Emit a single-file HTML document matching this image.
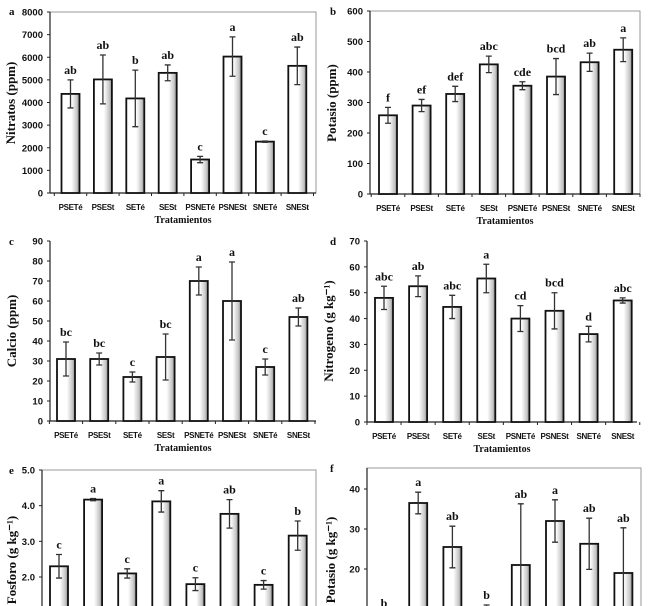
<!DOCTYPE html>
<html><head><meta charset="utf-8">
<style>
html,body{margin:0;padding:0;background:#fff;}
svg{display:block;}
.tk{font-family:"Liberation Sans",Arial,sans-serif;font-weight:bold;font-size:9.5px;fill:#111;}
.cat{font-family:"Liberation Sans",Arial,sans-serif;font-weight:bold;font-size:8px;letter-spacing:-0.3px;fill:#111;}
.lt{font-family:"Liberation Serif",serif;font-weight:bold;font-size:12px;fill:#111;}
.yt{font-family:"Liberation Serif",serif;font-weight:bold;font-size:13px;fill:#111;}
.xt{font-family:"Liberation Serif",serif;font-weight:bold;font-size:10px;fill:#111;}
.pl{font-family:"Liberation Serif",serif;font-weight:bold;font-size:11px;fill:#111;}
</style></head>
<body>
<svg id="fig" width="650" height="606" viewBox="0 0 650 606">
<defs>
<linearGradient id="bg" x1="0" x2="1" y1="0" y2="0">
<stop offset="0" stop-color="#fff"/><stop offset="0.55" stop-color="#fff"/><stop offset="0.85" stop-color="#c8c8c8"/><stop offset="1" stop-color="#8a8a8a"/>
</linearGradient>
</defs>
</svg>
<script>
const categories = ["PSETé","PSESt","SETé","SESt","PSNETé","PSNESt","SNETé","SNESt"];
const nitratos = [4380,5020,4180,5310,1480,6030,2270,5620];
const nitratosErr = [620,1080,1250,350,140,870,30,830];
const nitratosLet = ["ab","ab","b","ab","c","a","c","ab"];
const potasioPpm = [258,290,328,425,355,385,432,473];
const potasioPpmErr = [26,20,25,27,13,59,30,39];
const potasioPpmLet = ["f","ef","def","abc","cde","bcd","ab","a"];
const calcio = [31,31,22,32,70,60,27,52];
const calcioErr = [8.5,3,2.5,11.5,7,19.5,4,4.5];
const calcioLet = ["bc","bc","c","bc","a","a","c","ab"];
const nitrogeno = [48,52.5,44.5,55.5,40,43,34,47];
const nitrogenoErr = [4.5,4,4.5,5.5,5,7,3,1];
const nitrogenoLet = ["abc","ab","abc","a","cd","bcd","d","abc"];
const fosforo = [2.3,4.17,2.1,4.12,1.8,3.77,1.78,3.16];
const fosforoErr = [0.33,0.03,0.13,0.3,0.18,0.4,0.12,0.41];
const fosforoLet = ["c","a","c","a","c","ab","c","b"];
const potasioG = [7,36.5,25.5,9,21,32,26.3,19];
const potasioGErr = [2,2.7,5.2,2,15.3,5.3,6.4,11.3];
const potasioGLet = ["b","a","ab","b","ab","a","ab","ab"];
const ticksA = [0,1000,2000,3000,4000,5000,6000,7000,8000];
const ticksB = [0,100,200,300,400,500,600];
const ticksC = [0,10,20,30,40,50,60,70,80,90];
const ticksD = [0,10,20,30,40,50,60,70];
const ticksE = ["1.0","2.0","3.0","4.0","5.0"];
const ticksF = [0,10,20,30,40];

const svg = document.getElementById('fig');
const NS = "http://www.w3.org/2000/svg";
function mk(tag, attrs, parent){
  const e = document.createElementNS(NS, tag);
  for (const k in attrs) e.setAttribute(k, attrs[k]);
  (parent||svg).appendChild(e);
  return e;
}
function txt(s, x, y, cls, anchor, parent){
  const t = mk('text', {x:x, y:y, class:cls, 'text-anchor':anchor||'middle'}, parent);
  t.textContent = s;
  return t;
}

function panel(cfg){
  const g = mk('g', {});
  
  
  const yScale = v => cfg.y0 + (v - cfg.vmin) * (cfg.y1 - cfg.y0) / (cfg.vmax - cfg.vmin);
  const xScale = i => cfg.x0 + cfg.off + i * cfg.step;
  const bottom = Math.min(yScale(cfg.axisMin), 606);
  if (cfg.box){
    const r = mk('rect', {x:cfg.x0, y:cfg.boxTop, width:cfg.xr-cfg.x0, height:bottom-cfg.boxTop+ (cfg.clip?10:0), fill:'none', stroke:'#999', 'stroke-width':1}, g);
    
    
  }
  const ya = mk('line', {x1:cfg.x0, x2:cfg.x0, y1:cfg.boxTop!=null?cfg.boxTop:yScale(cfg.vmax), y2:bottom, stroke:'#222', 'stroke-width':1.2}, g);
  
  
  cfg.ticks.forEach(t => {
    const v = parseFloat(t), y = yScale(v);
    if (y > 606 || y < 0) return;
    mk('line', {x1:cfg.x0-3, x2:cfg.x0, y1:y, y2:y, stroke:'#222', 'stroke-width':1}, g);
    const tl = txt(String(t), cfg.x0-7, y+3.5, 'tk', 'end', g);
    
    
  });
  if (!cfg.clip){
    const xa = mk('line', {x1:cfg.x0, x2:cfg.xr, y1:bottom, y2:bottom, stroke:'#222', 'stroke-width':1.2}, g);
    
    
    for (let i=0;i<=categories.length;i++){
      const xx = xScale(i) - cfg.step/2;
      mk('line', {x1:xx, x2:xx, y1:bottom, y2:bottom+3, stroke:'#222', 'stroke-width':1}, g);
    }
  }
  const bw = 18;
  cfg.vals.forEach((v,i) => {
    const cx = xScale(i), yt = yScale(v);
    const b = mk('rect', {x:cx-bw/2, y:yt, width:bw, height:Math.max(0, bottom-yt+ (cfg.clip?5:0)), fill:'url(#bg)', stroke:'#111', 'stroke-width':1.8}, g);
    
    
    const e = cfg.errs[i];
    const eu = yScale(v+e), el = yScale(v-e);
    const eb = mk('path', {d:`M${cx},${eu}V${el}M${cx-3},${eu}H${cx+3}M${cx-3},${el}H${cx+3}`, stroke:'#333', 'stroke-width':1.3, fill:'none'}, g);
    
    
    const l = txt(cfg.lets[i], cx, eu-6, 'lt', 'middle', g);
    
    
    if (!cfg.clip){
      const c = txt(categories[i], cx, bottom+17, 'cat', 'middle', g);
      
      
    }
  });
  if (!cfg.clip){
    const xt = txt('Tratamientos', (cfg.x0+cfg.xr)/2, bottom+30, 'xt', 'middle', g);
    
    
  }
  const yt = txt(cfg.ytitle, 0, 0, 'yt', 'middle', g);
  yt.setAttribute('transform', `translate(${cfg.ytx},${cfg.yty}) rotate(-90)`);
  
  
  const pl = txt(cfg.id, cfg.plx, cfg.ply, 'pl', 'start', g);
  
  
}

panel({id:'a', x0:50, xr:316, off:20.5, step:32.4, vmin:0, vmax:8000, y0:193, y1:12, axisMin:0, box:true, boxTop:12, ticks:ticksA, vals:nitratos, errs:nitratosErr, lets:nitratosLet, ytitle:'Nitratos (ppm)', ytx:15, yty:103, plx:9, ply:15});
panel({id:'b', x0:370, xr:640, off:18, step:33.6, vmin:0, vmax:600, y0:194, y1:11, axisMin:0, box:true, boxTop:11, ticks:ticksB, vals:potasioPpm, errs:potasioPpmErr, lets:potasioPpmLet, ytitle:'Potasio (ppm)', ytx:336, yty:103, plx:330, ply:15});
panel({id:'c', x0:50, xr:316, off:16, step:33.2, vmin:0, vmax:90, y0:421, y1:241, axisMin:0, box:false, boxTop:241, ticks:ticksC, vals:calcio, errs:calcioErr, lets:calcioLet, ytitle:'Calcio (ppm)', ytx:16, yty:331, plx:9, ply:245});
panel({id:'d', x0:367, xr:637, off:17, step:34.1, vmin:0, vmax:70, y0:422, y1:241, axisMin:0, box:false, boxTop:241, ticks:ticksD, vals:nitrogeno, errs:nitrogenoErr, lets:nitrogenoLet, ytitle:'Nitrogeno (g kg\u207B\u00B9)', ytx:333, yty:331, plx:330, ply:245});
panel({id:'e', x0:42, xr:316, off:17, step:34.1, vmin:2, vmax:5, y0:577, y1:470, axisMin:0, box:true, boxTop:470, clip:true, ticks:ticksE, vals:fosforo, errs:fosforoErr, lets:fosforoLet, ytitle:'Fosforo (g kg\u207B\u00B9)', ytx:16, yty:560, plx:9, ply:474});
panel({id:'f', x0:367, xr:641, off:17, step:34.2, vmin:20, vmax:40, y0:569, y1:489, axisMin:0, box:true, boxTop:468, clip:true, ticks:ticksF, vals:potasioG, errs:potasioGErr, lets:potasioGLet, ytitle:'Potasio (g kg\u207B\u00B9)', ytx:335, yty:560, plx:330, ply:472});
</script>
</body></html>
